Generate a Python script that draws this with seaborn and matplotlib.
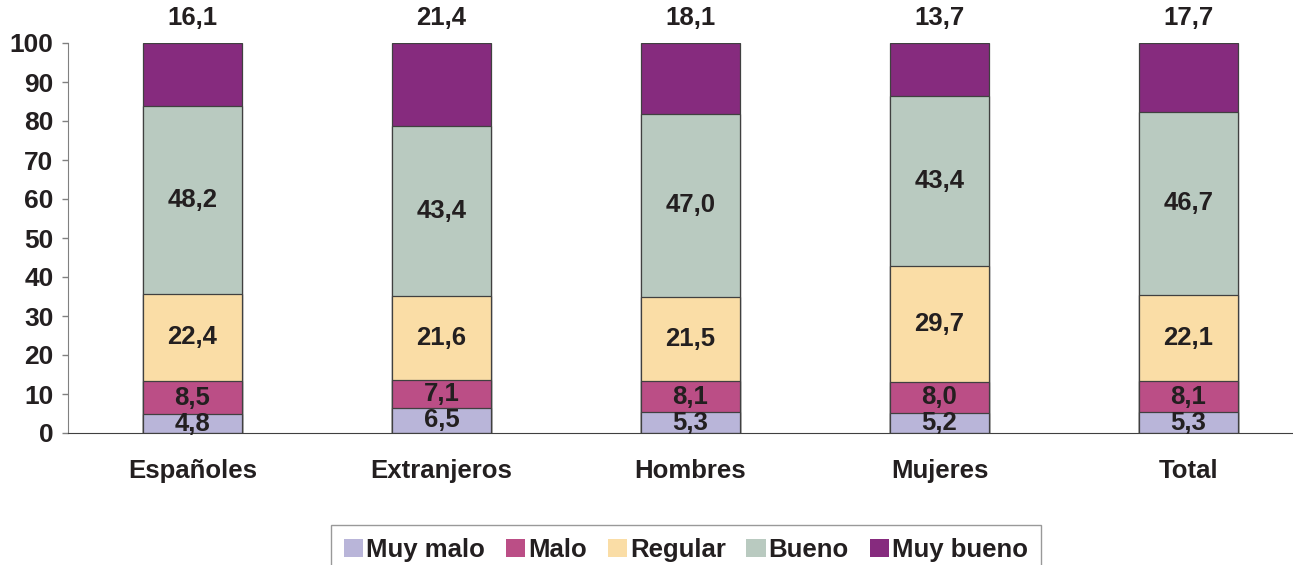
import matplotlib
matplotlib.use('Agg')
import matplotlib.pyplot as plt
import matplotlib.patches as mpatches
import seaborn as sns
import numpy as np


# data
groups = ['Españoles', 'Extranjeros', 'Hombres', 'Mujeres', 'Total']
levels = ['Muy malo', 'Malo', 'Regular', 'Bueno', 'Muy bueno']
muy_malo = [4.8, 6.5, 5.3, 5.2, 5.3]
malo = [8.5, 7.1, 8.1, 8.0, 8.1]
regular = [22.4, 21.6, 21.5, 29.7, 22.1]
bueno = [48.2, 43.4, 47.0, 43.4, 46.7]
muy_bueno = [16.1, 21.4, 18.1, 13.7, 17.7]
colors = ['#b9b5d9', '#bb4e86', '#fadda6', '#b9cac0', '#862b7e']

series = [muy_malo, malo, regular, bueno, muy_bueno]

sns.set_style('white')
plt.rcParams['font.family'] = ['Liberation Sans', 'DejaVu Sans']
plt.rcParams['font.weight'] = 'bold'
txt = '#231f20'
fs = 18.5

fig = plt.figure(figsize=(12.93, 5.65), dpi=100)
ax = fig.add_axes([68 / 1293, 1 - 433 / 565, (1293 - 68) / 1293, 390 / 565])

# cumulative stacking, draw from the top layer down so lower ones sit on top
cum = np.cumsum(np.array(series), axis=0)
for i in range(len(levels) - 1, -1, -1):
    sns.barplot(x=groups, y=cum[i], color=colors[i], width=0.394,
                edgecolor='#404040', linewidth=0.9, saturation=1, ax=ax)

# value labels
for i, vals in enumerate(series):
    for j, v in enumerate(vals):
        label = f'{v:.1f}'.replace('.', ',')
        if i == len(levels) - 1:
            y = 106.3
        else:
            y = cum[i][j] - v / 2
        ax.text(j, y, label, ha='center', va='center', fontsize=fs,
                fontweight='bold', color=txt, clip_on=False)

ax.set_ylim(0, 100)
ax.set_xlim(-0.5, (1293 - 68) / 249 - 0.5)
ax.set_yticks(range(0, 101, 10))
ax.tick_params(axis='y', length=4.5, width=1, color='#808080', pad=6,
               labelsize=19, labelcolor=txt, left=True)
ax.tick_params(axis='x', length=0, pad=19, labelsize=fs, labelcolor=txt)
for lab in ax.get_xticklabels() + ax.get_yticklabels():
    lab.set_fontweight('bold')

for s in ['top', 'right']:
    ax.spines[s].set_visible(False)
ax.spines['left'].set_color('#808080')
ax.spines['bottom'].set_color('#404040')
ax.set_xlabel('')
ax.set_ylabel('')

handles = [mpatches.Patch(facecolor=c, edgecolor='none', label=l)
           for c, l in zip(colors, levels)]
leg = fig.legend(handles=handles, loc='lower center', ncol=5,
                 bbox_to_anchor=(686 / 1293, -0.04), frameon=True,
                 fancybox=False, edgecolor='#808080',
                 handlelength=0.75, handleheight=0.75, handletextpad=0.12,
                 columnspacing=0.8, borderpad=0.5,
                 prop={'size': fs, 'weight': 'bold'})
for t in leg.get_texts():
    t.set_color(txt)

fig.savefig('out.png', dpi=100)
